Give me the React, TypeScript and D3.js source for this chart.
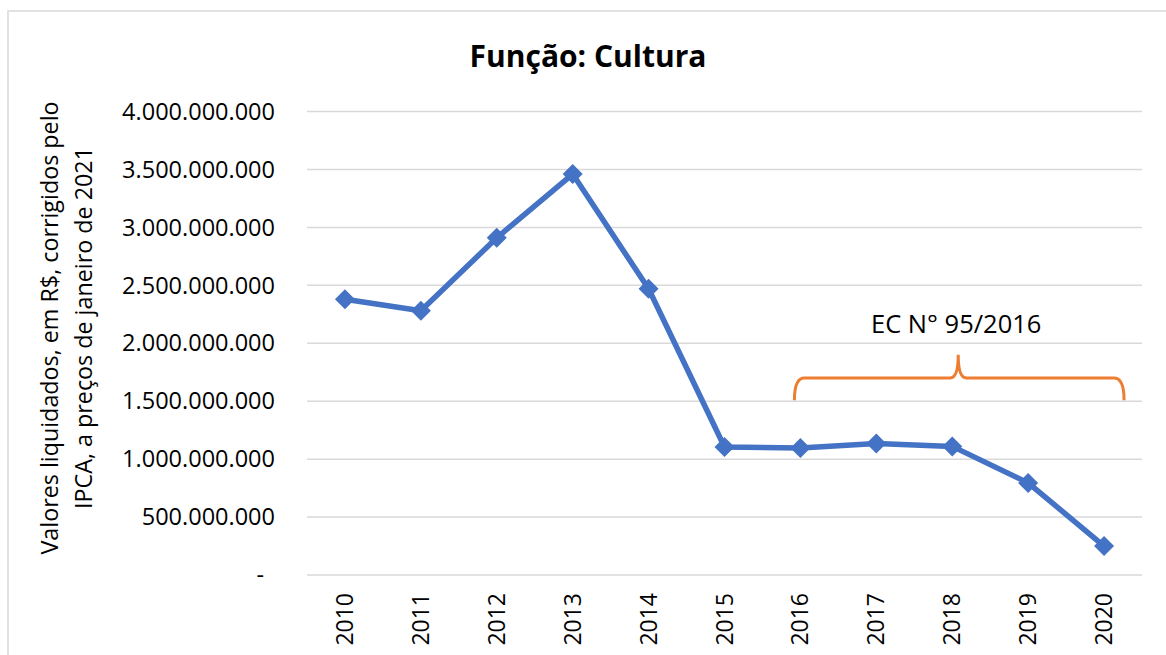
import React from 'react';
import * as d3 from 'd3';

const years = ['2010', '2011', '2012', '2013', '2014', '2015', '2016', '2017', '2018', '2019', '2020'];
const values = [2.38e9, 2.28e9, 2.91e9, 3.46e9, 2.47e9, 1.105e9, 1.095e9, 1.135e9, 1.11e9, 0.795e9, 0.25e9];
const yTicks = [0, 0.5e9, 1e9, 1.5e9, 2e9, 2.5e9, 3e9, 3.5e9, 4e9];

const W = 1166;
const H = 655;
const FONT = "'Open Sans', sans-serif";

const ptBR = d3.formatLocale({ decimal: ',', thousands: '.', grouping: [3], currency: ['R$', ''] });
const fmt = ptBR.format(',.0f');

const App: React.FC = () => {
  const x = d3.scaleBand<string>().domain(years).range([307, 1142]).padding(0);
  const y = d3.scaleLinear().domain([0, 4e9]).range([575, 111.5]);
  const cx = (yr: string) => (x(yr) || 0) + x.bandwidth() / 2;

  const line = d3.line<number>()
    .x((_, i) => cx(years[i]))
    .y(d => y(d));

  const marker = d3.symbol().type(d3.symbolSquare).size(200)();

  // EC 95/2016 brace
  const bx0 = cx('2016') - 6;
  const bx1 = cx('2020') + 20;
  const bxc = cx('2018') + 6;
  const yB = y(1.5e9) - 1;
  const yH = y(1.7e9);
  const yT = y(1.9e9);
  const r = 10;
  const brace = `M${bx0},${yB} Q${bx0},${yH} ${bx0 + r},${yH} L${bxc - 8},${yH} Q${bxc},${yH} ${bxc},${yT}` +
    ` Q${bxc},${yH} ${bxc + 8},${yH} L${bx1 - r},${yH} Q${bx1},${yH} ${bx1},${yB}`;

  return (
    <svg width={W} height={H} style={{ position: 'absolute', left: 0, top: 0, display: 'block', background: '#fff' }}>
      <rect x={8} y={11} width={1300} height={800} fill="#fff" stroke="#d9d9d9" strokeWidth={1.5} />

      <text x={588} y={67} textAnchor="middle" fontFamily={FONT} fontWeight="bold" fontSize={30} fill="#000">
        Função: Cultura
      </text>

      {/* gridlines */}
      {yTicks.map(t => (
        <line key={t} x1={307} x2={1142} y1={y(t)} y2={y(t)} stroke="#d9d9d9" strokeWidth={1.5} />
      ))}

      {/* y tick labels */}
      {yTicks.map(t => (
        <text key={'l' + t} x={t === 0 ? 264 : 275} y={y(t)} dy="0.35em" textAnchor="end"
          fontFamily={FONT} fontSize={23.5} fill="#000">
          {t === 0 ? '-' : fmt(t)}
        </text>
      ))}

      {/* x tick labels */}
      {years.map(yr => (
        <text key={yr} transform={`translate(${cx(yr)},593) rotate(-90)`} dy="0.35em" textAnchor="end"
          fontFamily={FONT} fontSize={23} fill="#000">
          {yr}
        </text>
      ))}

      {/* y axis title */}
      <g transform="translate(50,328) rotate(-90)">
        <text x={0} y={0} dy="0.35em" textAnchor="middle" fontFamily={FONT} fontSize={23.3} fill="#000">
          Valores liquidados, em R$, corrigidos pelo
        </text>
        <text x={0} y={34} dy="0.35em" textAnchor="middle" fontFamily={FONT} fontSize={23.3} fill="#000">
          IPCA, a preços de janeiro de 2021
        </text>
      </g>

      {/* series */}
      <path d={line(values) || ''} fill="none" stroke="#4472C4" strokeWidth={5.5} strokeLinejoin="round" />
      {values.map((v, i) => (
        <path key={i} d={marker || ''} transform={`translate(${cx(years[i])},${y(v)}) rotate(45)`} fill="#4472C4" />
      ))}

      {/* annotation */}
      <path d={brace} fill="none" stroke="#ED7D31" strokeWidth={3} />
      <text x={bxc - 2} y={333} textAnchor="middle" fontFamily={FONT} fontSize={25.5} fill="#000">
        EC N° 95/2016
      </text>
    </svg>
  );
};

export default App;
